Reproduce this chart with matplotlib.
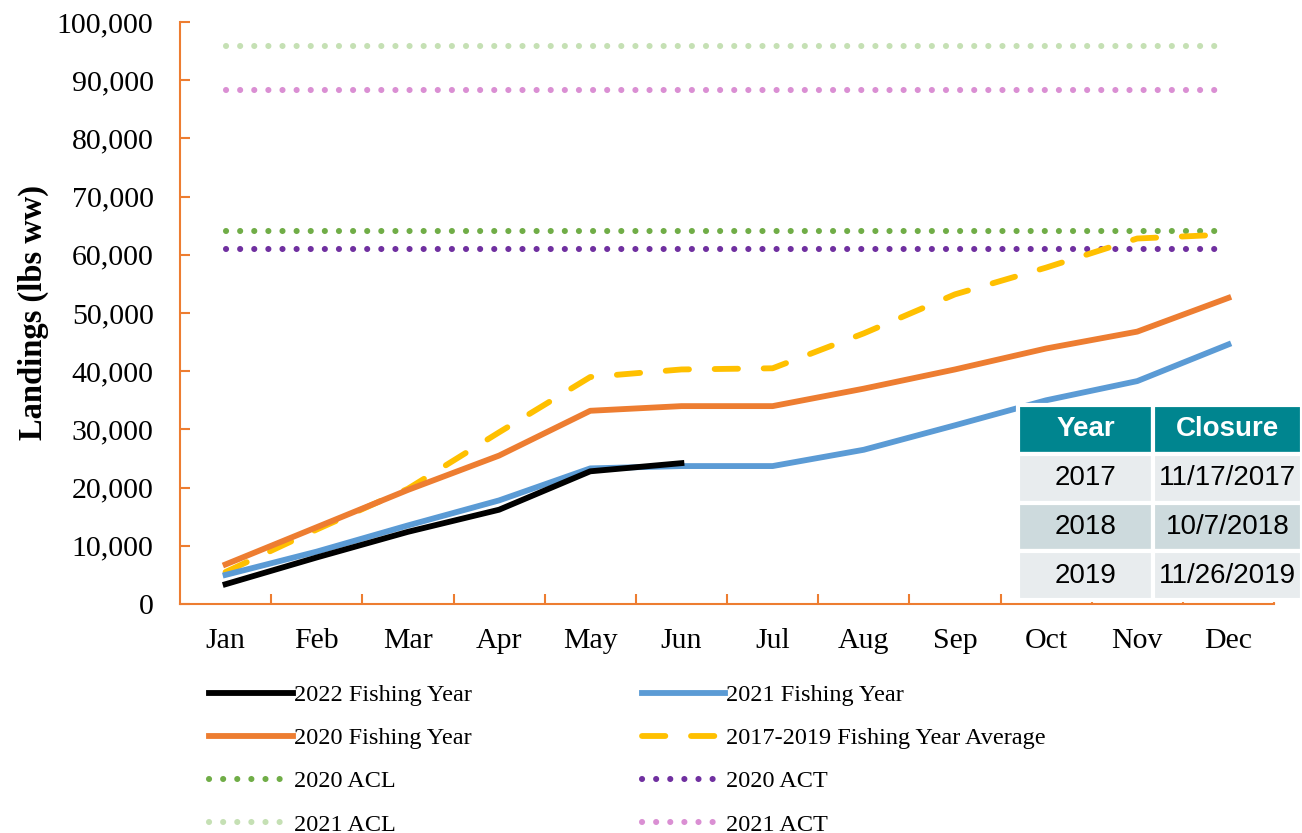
import matplotlib.pyplot as plt
from matplotlib.lines import Line2D
from matplotlib.ticker import FuncFormatter, FixedLocator

plt.rcParams['font.family'] = ['Liberation Serif', 'DejaVu Serif']

months = ["Jan", "Feb", "Mar", "Apr", "May", "Jun",
          "Jul", "Aug", "Sep", "Oct", "Nov", "Dec"]

# landings (lbs ww)
fy2022 = [3400, 8000, 12400, 16200, 22800, 24200]
fy2021 = [5000, 9000, 13500, 17800, 23300, 23700, 23700, 26500, 30700, 35000, 38300, 44600]
fy2020 = [6800, 13200, 19600, 25500, 33200, 34000, 34000, 37000, 40300, 43900, 46800, 52600]
avg_17_19 = [5500, 12800, 19800, 29500, 39000, 40300, 40500, 46500, 53200, 57800, 62800, 63500]

acl_2020 = 64100
act_2020 = 61000
acl_2021 = 95900
act_2021 = 88300

table_cols = ["Year", "Closure"]
table_rows = [["2017", "11/17/2017"], ["2018", "10/7/2018"], ["2019", "11/26/2019"]]

c_orange = "#ED7D31"
c_blue = "#5B9BD5"
c_yellow = "#FFC000"
c_green = "#70AD47"
c_purple = "#7030A0"
c_lgreen = "#C5E0B4"
c_pink = "#DA8FD3"

fig = plt.figure(figsize=(13.02, 8.33), dpi=100)
ax = fig.add_axes([180/1302, 1-604/833, 1094/1302, 582/833])

x = list(range(12))
lw = 4.2
dlw = 4.4
dots = (0, (0.01, 2.3))
dash = (0, (4.0, 4.4))

ax.plot(x, [acl_2021]*12, color=c_lgreen, lw=dlw, ls=dots, dash_capstyle="round")
ax.plot(x, [act_2021]*12, color=c_pink, lw=dlw, ls=dots, dash_capstyle="round")
ax.plot(x, [acl_2020]*12, color=c_green, lw=dlw, ls=dots, dash_capstyle="round")
ax.plot(x, [act_2020]*12, color=c_purple, lw=dlw, ls=dots, dash_capstyle="round")
ax.plot(x, avg_17_19, color=c_yellow, lw=lw, ls=dash, dash_capstyle="round")
ax.plot(x, fy2020, color=c_orange, lw=lw)
ax.plot(x, fy2021, color=c_blue, lw=lw)
ax.plot(x[:len(fy2022)], fy2022, color="black", lw=lw)

ax.set_xlim(-0.5, 11.5)
ax.set_ylim(0, 100000)
ax.set_yticks(range(0, 100001, 10000))
ax.yaxis.set_major_formatter(FuncFormatter(lambda v, p: f"{int(v):,}"))
ax.set_xticks(x)
ax.set_xticklabels(months)
ax.xaxis.set_minor_locator(FixedLocator([i + 0.5 for i in range(12)]))
ax.tick_params(axis="x", which="major", length=0, pad=17, labelsize=21.5)
ax.tick_params(axis="x", which="minor", direction="in", length=7, width=1.5, color=c_orange)
ax.tick_params(axis="y", direction="in", length=7, width=1.5, color=c_orange, pad=19, labelsize=21.5)
for s in ["top", "right"]:
    ax.spines[s].set_visible(False)
for s in ["left", "bottom"]:
    ax.spines[s].set_color(c_orange)
    ax.spines[s].set_linewidth(1.5)
ax.set_ylabel("Landings (lbs ww)", fontsize=23.5, fontweight="bold", labelpad=6)

# legend (column-major order)
h = [
    Line2D([], [], color="black", lw=lw),
    Line2D([], [], color=c_orange, lw=lw),
    Line2D([], [], color=c_green, lw=dlw, ls=dots, dash_capstyle="round"),
    Line2D([], [], color=c_lgreen, lw=dlw, ls=dots, dash_capstyle="round"),
    Line2D([], [], color=c_blue, lw=lw),
    Line2D([], [], color=c_yellow, lw=lw, ls=dash, dash_capstyle="round"),
    Line2D([], [], color=c_purple, lw=dlw, ls=dots, dash_capstyle="round"),
    Line2D([], [], color=c_pink, lw=dlw, ls=dots, dash_capstyle="round"),
]
labels = ["2022 Fishing Year", "2020 Fishing Year", "2020 ACL", "2021 ACL",
          "2021 Fishing Year", "2017-2019 Fishing Year Average", "2020 ACT", "2021 ACT"]
fig.legend(h, labels, ncol=2, loc="upper left", bbox_to_anchor=(197/1302, 1-672/833),
           frameon=False, fontsize=17.5, handlelength=3.43, handletextpad=0.05,
           columnspacing=7.0, labelspacing=0.87, borderpad=0)

# closure table
tax = fig.add_axes([1018/1302, 1-600/833, 284/1302, 195/833])
tax.axis("off")
tb = tax.table(cellText=table_rows, colLabels=table_cols, bbox=[0, 0, 1, 1],
               cellLoc="center", colWidths=[0.475, 0.525])
tb.auto_set_font_size(False)
row_colors = ["#E8ECEE", "#CDDADD", "#E8ECEE"]
for (r, c), cell in tb.get_celld().items():
    cell.set_edgecolor("white")
    cell.set_linewidth(3)
    if r == 0:
        cell.set_facecolor("#00858F")
        cell.get_text().set_color("white")
        cell.get_text().set_fontweight("bold")
        cell.get_text().set_fontsize(20)
    else:
        cell.set_facecolor(row_colors[r - 1])
        cell.get_text().set_fontsize(20)
    cell.get_text().set_fontfamily(["Liberation Sans", "DejaVu Sans"])

fig.savefig("out.png", dpi=100)
